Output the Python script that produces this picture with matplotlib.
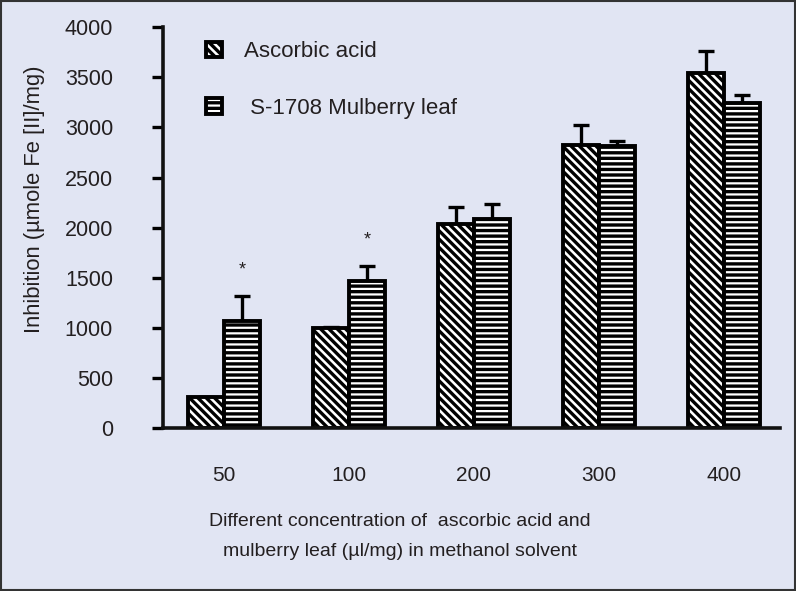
import matplotlib
matplotlib.use("Agg")
import matplotlib.pyplot as plt
import numpy as np
from matplotlib.patches import Rectangle

plt.rcParams['font.family'] = ['Liberation Sans', 'DejaVu Sans']
plt.rcParams['hatch.linewidth'] = 2.4
plt.rcParams['hatch.color'] = 'black'

# data
concentrations = ['50', '100', '200', '300', '400']
ascorbic = [310, 995, 2040, 2830, 3545]
ascorbic_err = [0, 12, 165, 190, 215]
mulberry = [1065, 1465, 2090, 2815, 3240]
mulberry_err = [250, 150, 150, 55, 80]
significant = [True, True, False, False, False]

bg = '#E1E5F3'
txt = '#231F20'

fig = plt.figure(figsize=(7.96, 5.91), dpi=100, facecolor=bg)
ax = fig.add_axes([0.2048, 0.2758, 0.775, 0.678])
ax.set_facecolor(bg)

x = np.arange(len(concentrations))
w = 0.288
ax.bar(x - w / 2, ascorbic, w, color='white', edgecolor='black', linewidth=2.8,
       hatch='\\\\\\\\', label='Ascorbic acid', zorder=2)
ax.bar(x + w / 2, mulberry, w, color='white', edgecolor='black', linewidth=2.8,
       hatch='---', label=' S-1708 Mulberry leaf', zorder=2)
ax.errorbar(x - w / 2, ascorbic, yerr=[np.zeros(len(x)), ascorbic_err], fmt='none',
            ecolor='black', elinewidth=2.4, capsize=6, capthick=2.4, zorder=1)
ax.errorbar(x + w / 2, mulberry, yerr=[np.zeros(len(x)), mulberry_err], fmt='none',
            ecolor='black', elinewidth=2.4, capsize=6, capthick=2.4, zorder=1)

for i, sig in enumerate(significant):
    if sig:
        ax.text(x[i] + w / 2, mulberry[i] + mulberry_err[i] + 260, '*',
                ha='center', va='center', fontsize=13, color=txt)

ax.set_xlim(-0.488, 4.448)
ax.set_ylim(0, 4000)
ax.set_yticks(np.arange(0, 4001, 500))
ax.set_xticks(x)
ax.set_xticklabels(concentrations)
ax.tick_params(axis='x', length=0, pad=27, labelsize=15, labelcolor=txt)
ax.tick_params(axis='y', length=8, width=2.4, pad=28, labelsize=15.5, labelcolor=txt)
for s in ['top', 'right']:
    ax.spines[s].set_visible(False)
for s in ['left', 'bottom']:
    ax.spines[s].set_linewidth(2.6)
    ax.spines[s].set_color('#111111')

fig.text(0.043, 0.663, 'Inhibition (µmole Fe [II]/mg)', rotation=90, ha='center',
         va='center', fontsize=15.8, color=txt)
fig.text(0.502, 0.092, 'Different concentration of  ascorbic acid and\nmulberry leaf (µl/mg) in methanol solvent',
         ha='center', va='center', fontsize=14, color=txt, linespacing=2.0)

ax.legend(loc='upper left', bbox_to_anchor=(0.038, 1.015), frameon=False, fontsize=16,
          handlelength=0.7, handleheight=0.7, handletextpad=1.0, labelspacing=1.6,
          labelcolor=txt)

fig.patches.append(Rectangle((0.001, 0.001), 0.998, 0.998, transform=fig.transFigure,
                             fill=False, edgecolor='#333333', linewidth=1.5))

fig.savefig('out.png', dpi=100, facecolor=bg)
